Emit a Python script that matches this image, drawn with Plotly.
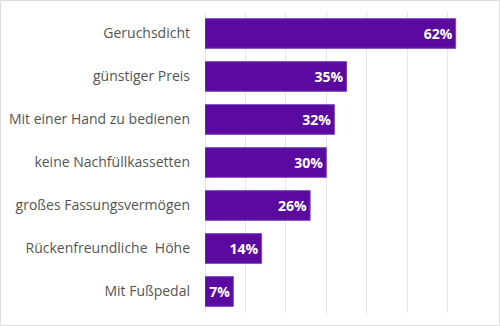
import plotly.graph_objects as go

categories = ["Geruchsdicht", "günstiger Preis", "Mit einer Hand zu bedienen",
              "keine Nachfüllkassetten", "großes Fassungsvermögen",
              "Rückenfreundliche\u00a0 Höhe", "Mit Fußpedal"]
values = [62, 35, 32, 30, 26, 14, 7]
labels = [f"{v}%" for v in values]

W, H = 500, 326
ml, mr, mt, mb = 205, 12, 12, 13

fig = go.Figure(go.Bar(
    x=values, y=categories, orientation="h",
    text=labels, textposition="inside", insidetextanchor="end",
    textangle=0, constraintext="none",
    textfont=dict(family="Open Sans", size=14, color="white", weight="bold"),
    marker=dict(color="#5b0aa0", line=dict(color="#7a40c2", width=1)),
    width=0.69, cliponaxis=False,
))

pw = W - ml - mr
ph = H - mt - mb
fig.add_shape(type="rect", xref="paper", yref="paper",
              x0=(0.5 - ml) / pw, x1=(W - 0.5 - ml) / pw,
              y0=-(mb - 0.5) / ph, y1=1 + (mt - 0.5) / ph,
              line=dict(color="#dddddd", width=1), layer="below")

fig.update_layout(
    width=W, height=H,
    margin=dict(l=ml, r=mr, t=mt, b=mb, autoexpand=False),
    paper_bgcolor="white", plot_bgcolor="white",
    showlegend=False,
    xaxis=dict(range=[0, 70], dtick=10, showticklabels=False,
               showgrid=True, gridcolor="#e6e6e6", gridwidth=1,
               zeroline=True, zerolinecolor="#e6e6e6", zerolinewidth=1,
               fixedrange=True, automargin=False),
    yaxis=dict(autorange="reversed", showgrid=False, zeroline=False,
               tickfont=dict(family="Open Sans", size=14, color="#555555"),
               ticklabelstandoff=14, ticks="", automargin=False),
    font=dict(family="Open Sans"),
)

fig.write_html("out.html")
